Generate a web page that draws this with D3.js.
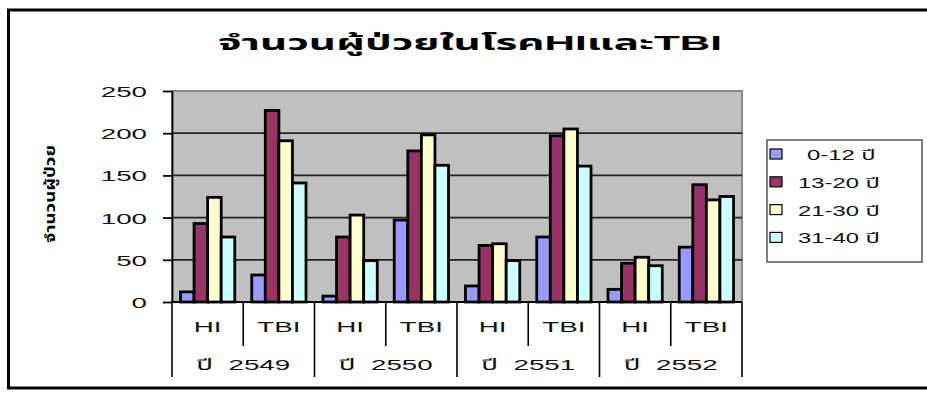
<!DOCTYPE html>
<html>
<head>
<meta charset="utf-8">
<script src="https://cdn.jsdelivr.net/npm/d3@7/dist/d3.min.js"></script>
<style>
  html, body { margin: 0; padding: 0; background: #fff; }
  svg { display: block; }
  text { font-family: "Liberation Sans", Arial, "Noto Sans Thai", "Noto Sans", sans-serif; }
</style>
</head>
<body>
<svg id="chart" width="927" height="394"></svg>
<script>
// Patients with head injury (HI) and traumatic brain injury (TBI), by year and age group
const years = ["ปี  2549", "ปี  2550", "ปี  2551", "ปี  2552"];
const injuries = ["HI", "TBI"];
const seriesNames = ["0-12 ปี", "13-20 ปี", "21-30 ปี", "31-40 ปี"];
const age0to12  = [12, 32, 7, 97, 19, 77, 15, 65];
const age13to20 = [93, 227, 77, 179, 67, 197, 46, 139];
const age21to30 = [124, 191, 103, 198, 69, 205, 53, 121];
const age31to40 = [77, 141, 49, 162, 49, 161, 43, 125];
const yTicks = [0, 50, 100, 150, 200, 250];
const titleText = "จำนวนผู้ป่วยในโรคHIและTBI";
const yTitleText = "จำนวนผู้ป่วย";

const seriesValues = [age0to12, age13to20, age21to30, age31to40];
const seriesColors = ["#9999FF", "#993366", "#FFFFCC", "#CCFFFF"];

// one category per (year, injury) pair
const categories = [];
years.forEach((yr, i) => injuries.forEach((inj, j) => categories.push({ key: i + "-" + j, year: yr, injury: inj, idx: categories.length })));

const svg = d3.select("#chart");
const W = 927, H = 394;
const plot = { left: 172, right: 742, top: 91, bottom: 302 };
const SX = 1.85; // wide lettering used throughout the chart

// outer chart frame
svg.append("rect").attr("x", 8.5).attr("y", 10).attr("width", W + 10).attr("height", 378)
  .attr("fill", "#fff").attr("stroke", "#000").attr("stroke-width", 3);

const x = d3.scaleBand().domain(categories.map(c => c.key)).range([plot.left, plot.right]).paddingInner(0).paddingOuter(0);
const inner = d3.scaleBand().domain(d3.range(seriesNames.length)).range([0, x.bandwidth()]).paddingInner(0).paddingOuter(0.625);
const y = d3.scaleLinear().domain([0, 250]).range([plot.bottom, plot.top]);

// plot area
svg.append("rect").attr("x", plot.left).attr("y", plot.top)
  .attr("width", plot.right - plot.left).attr("height", plot.bottom - plot.top)
  .attr("fill", "#C0C0C0").attr("stroke", "#8a8a8a").attr("stroke-width", 2);

// gridlines
svg.append("g").selectAll("line").data(yTicks.filter(t => t > 0 && t < 250)).join("line")
  .attr("x1", plot.left).attr("x2", plot.right)
  .attr("y1", d => y(d)).attr("y2", d => y(d))
  .attr("stroke", "#222").attr("stroke-width", 1.8);

// bars
const barGroups = svg.append("g").selectAll("g").data(categories).join("g")
  .attr("transform", d => `translate(${x(d.key)},0)`);
barGroups.selectAll("rect").data(c => seriesValues.map((vals, s) => ({ s, v: vals[c.idx] }))).join("rect")
  .attr("x", d => inner(d.s))
  .attr("width", inner.bandwidth())
  .attr("y", d => y(d.v))
  .attr("height", d => y(0) - y(d.v))
  .attr("fill", d => seriesColors[d.s])
  .attr("stroke", "#000").attr("stroke-width", 2.8);

// y axis
const yAxis = svg.append("g").attr("transform", `translate(${plot.left},0)`)
  .call(d3.axisLeft(y).tickValues(yTicks).tickSize(9).tickPadding(0).tickSizeOuter(0));
yAxis.select(".domain").attr("stroke", "#000").attr("stroke-width", 1.8);
yAxis.selectAll(".tick line").attr("stroke", "#000").attr("stroke-width", 1.8);
yAxis.selectAll(".tick text")
  .attr("x", -25 / SX).attr("dy", "0.36em")
  .attr("transform", `scale(${SX},1)`)
  .attr("font-size", 15).attr("fill", "#111");

// x axis with two-level category labels
const xAxisG = svg.append("g");
xAxisG.append("line").attr("x1", plot.left).attr("x2", plot.right)
  .attr("y1", plot.bottom).attr("y2", plot.bottom).attr("stroke", "#000").attr("stroke-width", 1.8);
// separators between injuries and between years
const edges = d3.range(categories.length + 1);
xAxisG.selectAll("line.sep").data(edges).join("line").attr("class", "sep")
  .attr("x1", i => i === categories.length ? plot.right : x(categories[i].key))
  .attr("x2", i => i === categories.length ? plot.right : x(categories[i].key))
  .attr("y1", plot.bottom)
  .attr("y2", i => i % 2 === 0 ? 377 : 346)
  .attr("stroke", "#000").attr("stroke-width", 1.6);

xAxisG.selectAll("text.inj").data(categories).join("text").attr("class", "inj")
  .attr("transform", d => `translate(${x(d.key) + x.bandwidth() / 2},332) scale(${SX},1)`)
  .attr("text-anchor", "middle").attr("font-size", 15).attr("fill", "#111")
  .text(d => d.injury);

xAxisG.selectAll("text.yr").data(years).join("text").attr("class", "yr")
  .attr("transform", (d, i) => `translate(${x(i + "-0") + x.bandwidth()},370) scale(${SX},1)`)
  .attr("text-anchor", "middle").attr("font-size", 15).attr("fill", "#111")
  .style("white-space", "pre")
  .text(d => d);

// title
svg.append("text").attr("x", 470).attr("y", 50)
  .attr("text-anchor", "middle").attr("font-size", 21).attr("font-weight", "bold")
  .attr("textLength", 504).attr("lengthAdjust", "spacingAndGlyphs")
  .text(titleText);

// y axis title
svg.append("text").attr("transform", "translate(55,194) rotate(-90)")
  .attr("text-anchor", "middle").attr("font-size", 14).attr("font-weight", "bold")
  .attr("textLength", 98).attr("lengthAdjust", "spacingAndGlyphs")
  .text(yTitleText);

// legend
const legend = svg.append("g");
legend.append("rect").attr("x", 767).attr("y", 140).attr("width", 155).attr("height", 122)
  .attr("fill", "#fff").attr("stroke", "#555").attr("stroke-width", 1.5);
const rows = legend.selectAll("g.row").data(seriesNames).join("g").attr("class", "row")
  .attr("transform", (d, i) => `translate(769,${154 + i * 27.8})`);
rows.append("rect").attr("x", 1).attr("y", -5).attr("width", 12).attr("height", 10)
  .attr("fill", (d, i) => seriesColors[i]).attr("stroke", "#000").attr("stroke-width", 1.2);
rows.append("text")
  .attr("transform", (d, i) => `translate(${i === 0 ? 38 : 29},6) scale(${SX * 0.92},1)`)
  .attr("font-size", 14).attr("fill", "#111")
  .text(d => d);
</script>
</body>
</html>
